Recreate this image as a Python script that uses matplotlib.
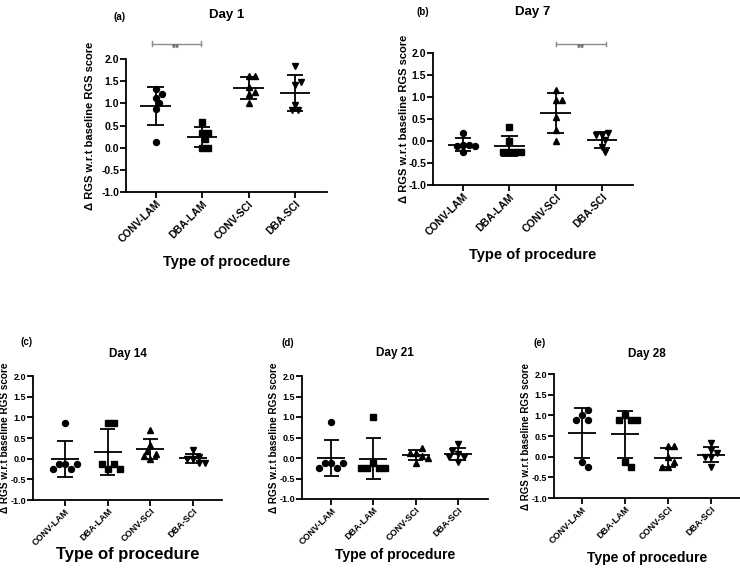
import numpy as np
import matplotlib.pyplot as plt

plt.rcParams['font.family'] = ['Liberation Sans', 'DejaVu Sans']
plt.rcParams['font.weight'] = 'bold'

groups = ["CONV-LAM", "DBA-LAM", "CONV-SCI", "DBA-SCI"]
markers = ["o", "s", "^", "v"]
yticks = [-1.0, -0.5, 0.0, 0.5, 1.0, 1.5, 2.0]

# change in RGS score per animal, one list per group
day1 = [
    [1.32, 1.13, 1.20, 1.0, 0.88, 0.13],
    [0.57, 0.33, 0.33, 0.2, 0.0, 0.0],
    [1.625, 1.625, 1.36, 1.21, 1.26, 1.0],
    [1.84, 1.41, 1.47, 0.96, 0.84, 0.84],
]
day7 = [
    [0.18, -0.08, -0.1, -0.12, -0.12, -0.25],
    [0.31, 0.0, -0.25, -0.25, -0.25, -0.25],
    [1.17, 0.93, 0.93, 0.54, 0.25, 0.0],
    [0.14, 0.19, 0.14, 0.02, -0.13, -0.26],
]
day14 = [
    [0.875, -0.125, -0.25, -0.125, -0.125, -0.25],
    [0.875, 0.875, -0.25, -0.125, -0.125, -0.25],
    [0.69, 0.0, 0.125, 0.33, 0.19, 0.06],
    [0.2, 0.0, -0.1, 0.05, 0.0, -0.1],
]
day21 = [
    [0.875, -0.125, -0.25, -0.125, -0.125, -0.25],
    [1.0, -0.125, -0.25, -0.25, -0.25, -0.25],
    [-0.125, 0.125, 0.04, 0.25, 0.125, 0.0],
    [0.33, 0.1, 0.03, 0.17, 0.03, -0.1],
]
day28 = [
    [1.0, 0.875, 1.125, 0.875, -0.125, -0.25],
    [1.0, 0.875, 0.875, 0.875, -0.125, -0.25],
    [0.25, 0.25, 0.0, -0.125, -0.25, -0.25],
    [0.33, 0.0, 0.08, 0.15, 0.0, -0.25],
]

W, H = 740, 571
fig = plt.figure(figsize=(W / 100, H / 100), dpi=100)

# axes box in px [left, top, right, bottom], text sizes and positions per panel
panels = [
    dict(data=day1, title="Day 1", letter="(a)", box=(126, 59, 327, 192), xlim=(-0.64, 3.69),
         tick=7.5, tsize=9.5, xl=10.5, yl=8, title_y=15, letter_xy=(120, 17),
         xl_y=262, yl_x=90, sig=(-0.08, 0.98, 2.345, 0.42, 2.23)),
    dict(data=day7, title="Day 7", letter="(b)", box=(433, 53, 633, 185), xlim=(-0.65, 3.67),
         tick=7.5, tsize=9.5, xl=10.5, yl=8, title_y=12, letter_xy=(423, 12),
         xl_y=255, yl_x=404, sig=(2.0, 3.08, 2.2, 2.52, 2.1)),
    dict(data=day14, title="Day 14", letter="(c)", box=(33, 376, 222, 500), xlim=(-0.75, 3.68),
         tick=6.5, tsize=8.5, xl=12, yl=7.2, title_y=354, letter_xy=(27, 342),
         xl_y=555, yl_x=5, sig=None),
    dict(data=day21, title="Day 21", letter="(d)", box=(302, 376, 488, 499), xlim=(-0.69, 3.71),
         tick=6.5, tsize=8.5, xl=10, yl=7.2, title_y=353, letter_xy=(288, 343),
         xl_y=555, yl_x=274, sig=None),
    dict(data=day28, title="Day 28", letter="(e)", box=(554, 374, 740, 498), xlim=(-0.65, 3.67),
         tick=6.5, tsize=8.5, xl=10, yl=7.0, title_y=354, letter_xy=(540, 343),
         xl_y=558, yl_x=526, sig=None),
]


def swarm(ax, x0, vals, d=6.0):
    # spread points sideways so markers don't overlap (pixel space)
    pts = ax.transData.transform(np.column_stack([np.full(len(vals), x0), vals]))
    placed = []
    cands = [0]
    for k in range(1, 12):
        cands += [k * d / 2, -k * d / 2]
    for px, py in pts:
        for c in cands:
            if all(np.hypot(px + c - qx, py - qy) >= d for qx, qy in placed):
                placed.append((px + c, py))
                break
    out = ax.transData.inverted().transform(np.array(placed))
    return out[:, 0]


for p in panels:
    l, t, r, b = p["box"]
    ax = fig.add_axes([l / W, 1 - b / H, (r - l) / W, (b - t) / H])
    ax.set_xlim(*p["xlim"])
    ax.set_ylim(-1.0, 2.0)
    for s in ["top", "right"]:
        ax.spines[s].set_visible(False)
    for s in ["left", "bottom"]:
        ax.spines[s].set_linewidth(1.3)
    ax.tick_params(width=1.3, length=4, labelsize=p["tick"], pad=0.8)
    ax.set_yticks(yticks)
    ax.set_yticklabels(["%.1f" % v for v in yticks])
    ax.set_xticks(range(len(groups)))
    ax.set_xticklabels(groups, rotation=45, ha="right", rotation_mode="anchor")

    for i, vals in enumerate(p["data"]):
        vals = np.array(vals)
        xs = swarm(ax, i, vals)
        ax.plot(xs, vals, linestyle="none", marker=markers[i], ms=4.3,
                color="black", clip_on=False, zorder=3)
        m = vals.mean()
        sd = vals.std(ddof=1)
        ax.hlines(m, i - 0.33, i + 0.33, color="black", lw=1.3, zorder=4)
        ax.vlines(i, m - sd, m + sd, color="black", lw=1.3, zorder=4)
        ax.hlines([m - sd, m + sd], i - 0.18, i + 0.18, color="black", lw=1.3, zorder=4)

    if p["sig"] is not None:
        x1, x2, yb, xt, yt = p["sig"]
        ax.plot([x1, x2], [yb, yb], color="#8c8c8c", lw=1.0, clip_on=False)
        ax.plot([x1, x1], [yb - 0.05, yb + 0.05], color="#8c8c8c", lw=1.0, clip_on=False)
        ax.plot([x2, x2], [yb - 0.05, yb + 0.05], color="#8c8c8c", lw=1.0, clip_on=False)
        ax.text(xt, yt, "**", color="#606060", fontsize=7.5, ha="center", va="center",
                clip_on=False)

    ax.set_xlabel("Type of procedure", fontsize=p["xl"], fontweight="bold")
    ax.xaxis.label.set_va("center")
    ax.xaxis.set_label_coords(0.5, (b - p["xl_y"]) / (b - t))
    ax.set_ylabel("\u0394 RGS w.r.t baseline RGS score", fontsize=p["yl"], fontweight="bold")
    ax.yaxis.label.set_va("center")
    ax.yaxis.set_label_coords((p["yl_x"] - l) / (r - l), 0.5)

    fig.text((l + r) / 2 / W, 1 - p["title_y"] / H, p["title"], fontsize=p["tsize"],
             fontweight="bold", ha="center", va="center")
    lx, ly = p["letter_xy"]
    fig.text(lx / W, 1 - ly / H, p["letter"], fontsize=7, fontweight="bold",
             ha="center", va="center")

fig.savefig("out.png", dpi=100)
